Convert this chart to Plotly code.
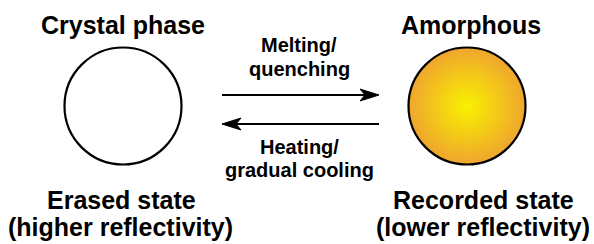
import plotly.graph_objects as go

# ---- content ----
phases = ["Crystal phase", "Amorphous"]
states = ["Erased state", "Recorded state"]
reflectivity = ["(higher reflectivity)", "(lower reflectivity)"]
forward_lines = ["Melting/", "quenching"]
backward_lines = ["Heating/", "gradual cooling"]
fill_edge = ["#FFFFFF", "#EFA52E"]
fill_centre = ["#FFFFFF", "#F8F200"]
gradient = ["none", "radial"]

# ---- layout constants (pixel space) ----
W, H = 594, 244
circle_x = [123, 467]
circle_y = 106
circle_size = 117
title_x = [123, 471]
state_x = [121, 483]
refl_x = [120, 483]
mid_x = 299
arrow_x0, arrow_x1 = 222, 379
arrow_y = [95, 124]
BIG, SMALL = 25, 20
FONT = "Liberation Sans, Arial, sans-serif"

fig = go.Figure()
fig.add_trace(go.Scatter(
    x=circle_x, y=[circle_y] * 2, mode="markers", hoverinfo="skip",
    marker=dict(size=circle_size, color=fill_edge,
                gradient=dict(type=gradient, color=fill_centre),
                line=dict(color="black", width=2.2)),
    showlegend=False))

ann = []
def txt(x, cap_mid, s, size):
    ann.append(dict(x=x, y=cap_mid, text="<b>%s</b>" % s, showarrow=False,
                    xref="x", yref="y", xanchor="center", yanchor="middle",
                    font=dict(family=FONT, size=size, color="black")))

# cap centre y positions
for i in range(2):
    txt(title_x[i], 25, phases[i], BIG)
    txt(state_x[i], 200, states[i], BIG)
    txt(refl_x[i], 226.5, reflectivity[i], BIG)
txt(mid_x, 45, forward_lines[0], SMALL)
txt(mid_x, 68.5, forward_lines[1], SMALL)
txt(mid_x, 146.5, backward_lines[0], SMALL)
txt(mid_x, 170, backward_lines[1], SMALL)

shapes = []
def arrow(xs, xe, y):
    d = 1 if xe > xs else -1
    hl, hw, notch = 19, 6, 14
    shapes.append(dict(type="line", xref="x", yref="y", x0=xs, x1=xe - d * notch,
                       y0=y, y1=y, line=dict(color="black", width=2.2)))
    p = "M %s,%s L %s,%s L %s,%s L %s,%s Z" % (
        xe, y, xe - d * hl, y - hw, xe - d * notch, y, xe - d * hl, y + hw)
    shapes.append(dict(type="path", xref="x", yref="y", path=p,
                       fillcolor="black", line=dict(color="black", width=1)))

arrow(arrow_x0, arrow_x1, arrow_y[0])
arrow(arrow_x1, arrow_x0, arrow_y[1])

fig.update_layout(
    width=W, height=H, margin=dict(l=0, r=0, t=0, b=0),
    paper_bgcolor="white", plot_bgcolor="white",
    xaxis=dict(range=[0, W], visible=False, fixedrange=True),
    yaxis=dict(range=[H, 0], visible=False, fixedrange=True),
    annotations=ann, shapes=shapes)

fig.write_html("out.html", config={"displayModeBar": False},
               post_script="document.body.style.margin='0px';document.body.style.overflow='hidden';")
